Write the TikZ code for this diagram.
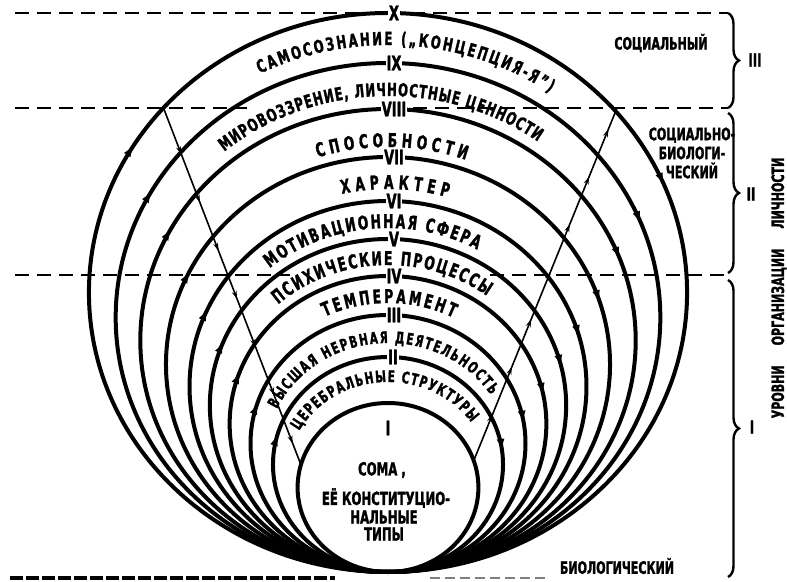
\documentclass[tikz,border=0pt]{standalone}
\usepackage{fontspec}
\setmainfont{DejaVu Sans}[FakeStretch=0.65, BoldFeatures={FakeBold=1.5}]
\usetikzlibrary{decorations.text,decorations.markings,decorations.pathreplacing,calc,arrows.meta}
% #1 baseline top (image y), #2 start angle, #3 end angle, #4 font size, #5 text
\newcommand\bandtext[5]{%
  \pgfmathsetmacro\qb{(572-#1)/2}%
  \pgfmathsetmacro\qa{1.07*\qb}%
  \pgfmathsetmacro\qx{388+\qa*cos(#2)}%
  \pgfmathsetmacro\qy{9+\qb+\qb*sin(#2)}%
  \path[decorate,decoration={text along path,text align=fit to path,
     text={|\bfseries\fontsize{#4}{#4}\selectfont|#5}}]
     (\qx,\qy) arc[start angle=#2,end angle=#3,x radius=\qa,y radius=\qb];
}
\begin{document}
\begin{tikzpicture}[x=1pt,y=1pt,
  ring/.style={line width=4pt},
  dashline/.style={line width=1.8pt, dash pattern=on 14pt off 8pt},
  flow/.style={line width=1.6pt, postaction={decorate},
    decoration={markings, mark=between positions 0.13 and 0.95 step 0.135 with {\arrow{Stealth[length=8pt,width=5pt]}}}},
  num/.style={fill=white, inner sep=1pt, font=\bfseries\fontsize{20}{20}\selectfont},
  side/.style={font=\bfseries\fontsize{17}{19}\selectfont},
  bracestyle/.style={line width=2.4pt, decorate, decoration={brace, amplitude=11pt}},
]
\useasboundingbox (0,0) rectangle (787,581);

% level lines
\draw[dashline] (15,568) -- (728,568);
\draw[dashline] (15,473) -- (247,473);
\draw[dashline] (413,473) -- (728,473);
\draw[dashline] (15,306) -- (290,306);
\draw[dashline] (490,306) -- (728,306);
\draw[line width=3.5pt, dash pattern=on 13pt off 3pt] (10,3) -- (335,3);
\draw[line width=2pt, dash pattern=on 10pt off 5pt, gray] (430,3) -- (545,3);

% nested ellipses II..X
\foreach \t/\fl/\fr in {13/0.672/0.378, 63/0.661/0.383, 109/0.656/0.389, 157/0.644/0.406,
    201/0.633/0.417, 239/0.622/0.428, 276/0.611/0.439, 315/0.6/0.45, 357/0.589/0.461}{
  \pgfmathsetmacro\rb{(572-\t)/2}
  \pgfmathsetmacro\ra{1.07*\rb}
  \pgfmathsetmacro\yt{581-\t}
  \draw[ring, postaction={decorate}, decoration={markings,
      mark=at position \fl with {\arrow{Latex[length=12pt,width=8pt]}}}]
    (388,9) arc[start angle=270,end angle=90,x radius=\ra,y radius=\rb];
  \draw[ring, postaction={decorate}, decoration={markings,
      mark=at position \fr with {\arrow{Latex[length=12pt,width=8pt]}}}]
    (388,\yt) arc[start angle=90,end angle=-90,x radius=\ra,y radius=\rb];
}
% soma circle I
\draw[ring] (388,93.5) ellipse[x radius=90.4, y radius=84.5];

% straight flows
\coordinate (la) at (163.5,473);
\coordinate (lb) at (301,116);
\coordinate (ra) at (474,121);
\coordinate (rb) at (617,473);
\draw[flow] (la) -- (lb);
\draw[flow] (ra) -- (rb);

% band labels
\bandtext{45}{117}{55}{18}{САМОСОЗНАНИЕ („КОНЦЕПЦИЯ-Я")}
\bandtext{96}{130}{54}{18}{МИРОВОЗЗРЕНИЕ, ЛИЧНОСТНЫЕ ЦЕННОСТИ}
\bandtext{147}{108}{70}{19}{СПОСОБНОСТИ}
\bandtext{189}{103}{73}{19}{ХАРАКТЕР}
\bandtext{228}{130}{61}{19}{МОТИВАЦИОННАЯ СФЕРА}
\bandtext{265}{132}{53}{19}{ПСИХИЧЕСКИЕ ПРОЦЕССЫ}
\bandtext{303}{116}{63}{19}{ТЕМПЕРАМЕНТ}
\bandtext{343}{155}{33}{16}{ВЫСШАЯ НЕРВНАЯ ДЕЯТЕЛЬНОСТЬ}
\bandtext{382}{151}{35}{16}{ЦЕРЕБРАЛЬНЫЕ СТРУКТУРЫ}

% numerals
\node[num] (nX) at (394,568) {X};
\node[num] (nIX) at (394,518) {IX};
\node[num] (nVIII) at (394,472) {VIII};
\node[num] (nVII) at (394,424) {VII};
\node[num] (nVI) at (394,380) {VI};
\node[num] (nV) at (394,342) {V};
\node[num] (nIV) at (394,305) {IV};
\node[num] (nIII) at (394,266) {III};
\node[num] (nII) at (393,224) {II};
\node[num, fill=none] (nI) at (388,153) {I};

% soma text
\node[side, font=\bfseries\fontsize{18}{18}\selectfont] (s1) at (382,111) {СОМА ,};
\node[side, font=\bfseries\fontsize{18}{18}\selectfont] (s2) at (386,83) {ЕЁ КОНСТИТУЦИО-};
\node[side, font=\bfseries\fontsize{18}{18}\selectfont] (s3) at (384,64) {НАЛЬНЫЕ};
\node[side, font=\bfseries\fontsize{18}{18}\selectfont] (s4) at (384,47) {ТИПЫ};

% side labels
\node[side] (soc) at (661,538) {СОЦИАЛЬНЫЙ};
\node[side, align=center] (sb) at (692,428) {СОЦИАЛЬНО-\\БИОЛОГИ-\\ЧЕСКИЙ};
\node[side] (bio) at (617,15) {БИОЛОГИЧЕСКИЙ};

% braces
\draw[bracestyle] (728,568) -- (728,473);
\draw[bracestyle] (728,468) -- (728,308);
\draw[bracestyle] (728,301) -- (728,4);
\node[side, font=\bfseries\fontsize{18}{18}\selectfont] (b3) at (755,521) {III};
\node[side, font=\bfseries\fontsize{18}{18}\selectfont] (b2) at (751,387) {II};
\node[side, font=\bfseries\fontsize{18}{18}\selectfont] (b1) at (752,154) {I};
\node[side, rotate=90] (lev) at (779,293)
  {УРОВНИ\hspace{20pt}ОРГАНИЗАЦИИ\hspace{20pt}ЛИЧНОСТИ};
\end{tikzpicture}
\end{document}
